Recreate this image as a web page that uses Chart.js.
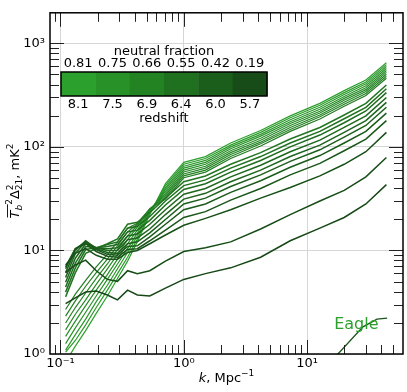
<!DOCTYPE html>
<html>
<head>
<meta charset="utf-8">
<script src="https://cdn.jsdelivr.net/npm/chart.js@4.4.1/dist/chart.umd.min.js"></script>
<style>
  html, body { margin: 0; padding: 0; background: #fff; }
  #wrap { width: 407px; height: 392px; }
</style>
</head>
<body>
<div id="wrap"><canvas id="chart" width="407" height="392"></canvas></div>
<script>
// wavenumbers k, Mpc^-1 (shared by every curve)
const kValues = [0.11, 0.132, 0.16, 0.195, 0.24, 0.29, 0.35, 0.42, 0.53, 0.71, 1.0, 1.5, 2.4, 4.2, 7.3, 12.7, 20, 30, 44];

// power spectra, mK^2 -- from lightest (high z) to darkest (low z)
const p01 = [0.84, 1.19, 1.68, 2.47, 3.63, 5.36, 7.89, 12.1, 22.2, 44.1, 70.9, 80.6, 109, 144, 199, 263, 349, 442, 649];
const p02 = [1.04, 1.35, 1.91, 2.81, 4.14, 5.97, 8.59, 12.9, 22.7, 42.3, 67.9, 77.2, 104, 138, 191, 252, 334, 423, 622];
const p03 = [1.09, 1.54, 2.17, 3.20, 4.61, 6.65, 9.56, 13.8, 23.2, 40.5, 65.1, 74.0, 100, 132, 183, 241, 320, 406, 596];
const p04 = [1.26, 1.79, 2.53, 3.63, 5.25, 7.40, 10.4, 14.7, 23.7, 38.8, 62.3, 70.8, 95.8, 127, 175, 231, 307, 389, 570];
const p05 = [1.48, 2.08, 2.93, 4.14, 5.84, 8.24, 11.6, 15.7, 24.2, 37.2, 59.7, 67.9, 91.8, 121, 168, 221, 294, 372, 546];
const p06 = [1.71, 2.42, 3.33, 4.71, 6.65, 9.17, 12.7, 16.8, 24.7, 35.6, 57.2, 65.0, 88.0, 116, 161, 212, 282, 357, 524];
const p07 = [1.99, 2.81, 3.88, 5.36, 7.40, 10.2, 13.8, 17.5, 25.2, 34.1, 54.8, 62.3, 84.3, 111, 154, 203, 270, 342, 502];
const p08 = [2.32, 3.26, 4.51, 6.10, 8.24, 11.1, 15.1, 17.9, 25.2, 32.7, 52.5, 59.6, 80.7, 107, 147, 195, 258, 327, 480];
const p09 = [2.69, 3.79, 5.14, 6.93, 9.17, 12.1, 16.4, 18.3, 25.2, 31.3, 50.3, 57.1, 77.3, 102, 141, 186, 247, 313, 460];
const p10 = [3.56, 6.10, 9.37, 10.4, 11.6, 12.9, 17.9, 18.7, 23.2, 32.0, 46.1, 52.4, 67.9, 87.9, 119, 154, 203, 263, 396];
const p11 = [3.96, 6.79, 10.2, 10.6, 11.4, 12.1, 16.4, 17.1, 21.3, 30.0, 42.3, 48.0, 62.3, 80.6, 109, 141, 187, 241, 364];
const p12 = [4.42, 7.56, 10.9, 10.6, 10.9, 11.4, 15.1, 15.7, 19.5, 27.5, 38.8, 44.1, 57.1, 73.9, 100, 130, 171, 222, 334];
const p13 = [4.92, 8.41, 11.6, 10.6, 10.4, 10.6, 13.8, 14.4, 17.9, 24.7, 34.9, 39.6, 51.3, 66.4, 89.8, 116, 154, 199, 300];
const p14 = [5.48, 9.37, 12.1, 10.6, 9.98, 9.98, 12.7, 13.2, 16.1, 22.2, 31.3, 35.6, 46.1, 59.6, 80.6, 104, 138, 179, 269];
const p15 = [6.10, 9.98, 12.4, 10.4, 9.56, 9.37, 11.6, 12.1, 14.8, 19.9, 28.1, 32.0, 41.4, 53.6, 72.4, 93.7, 124, 161, 241];
const p16 = [6.65, 10.4, 12.1, 10.2, 9.17, 8.98, 10.9, 11.1, 13.5, 17.9, 24.7, 28.1, 36.4, 47.1, 63.6, 82.4, 109, 141, 212];
const p17 = [6.93, 10.4, 11.6, 9.77, 8.78, 8.59, 10.2, 10.4, 12.4, 15.7, 20.8, 23.7, 30.6, 39.6, 53.6, 69.3, 91.7, 119, 179];
const p18 = [7.24, 9.37, 10.4, 8.98, 8.24, 8.24, 9.56, 9.98, 11.6, 14.1, 17.5, 20.4, 24.7, 32.0, 40.5, 52.4, 67.9, 89.8, 138];
const p19 = [6.10, 7.24, 8.06, 6.37, 5.25, 5.03, 6.37, 5.97, 6.37, 7.89, 9.77, 10.6, 12.1, 16.1, 22.2, 30.0, 38.0, 51.3, 78.9];
const p20 = [3.07, 3.48, 3.96, 4.05, 3.71, 3.33, 4.14, 3.71, 3.63, 4.32, 5.25, 5.97, 6.79, 8.59, 12.4, 16.4, 20.8, 28.1, 43.2];
const allSeries = [p01, p02, p03, p04, p05, p06, p07, p08, p09, p10, p11, p12, p13, p14, p15, p16, p17, p18, p19, p20];

// Eagle curve
const eagleK = [15.4, 17.8, 28.4, 36.9, 44.6];
const eagleP = [0.82, 1.0, 1.83, 2.17, 2.22];
const eagleLabel = 'Eagle';
const eagleLabelK = 16.6, eagleLabelP = 1.76;

// colour bar
const neutralFraction = ['0.81', '0.75', '0.66', '0.55', '0.42', '0.19'];
const redshifts = ['8.1', '7.5', '6.9', '6.4', '6.0', '5.7'];

// axes
const xTickValues = [0.1, 1, 10];
const xTickLabels = ['10\u207B\u00B9', '10\u2070', '10\u00B9'];
const yTickValues = [1, 10, 100, 1000];
const yTickLabels = ['10\u2070', '10\u00B9', '10\u00B2', '10\u00B3'];

const FONT = 'DejaVu Sans';
const light = [44, 160, 44], dark = [22, 72, 22];
const segColors = ['#2ca02c', '#289228', '#238323', '#1f711f', '#1b5e1b', '#174b17'];

function mix(t) {
  const c = light.map((v, i) => Math.round(v + (dark[i] - v) * t));
  return `rgb(${c[0]},${c[1]},${c[2]})`;
}

// darkest first so that it ends up on top
const datasets = [];
for (let i = allSeries.length - 1; i >= 0; i--) {
  const t = i / (allSeries.length - 1);
  datasets.push({
    data: kValues.map((k, j) => ({ x: k, y: allSeries[i][j] })),
    borderColor: mix(t),
    borderWidth: i < 9 ? 1.2 : 1.5,
    pointRadius: 0,
    tension: 0
  });
}
datasets.push({
  data: eagleK.map((k, j) => ({ x: k, y: eagleP[j] })),
  borderColor: mix(0.85),
  borderWidth: 1.3,
  pointRadius: 0,
  tension: 0
});

function minorValues(lo, hi) {
  const out = [];
  for (let e = -2; e <= 3; e++) {
    for (let m = 2; m <= 9; m++) {
      const v = m * Math.pow(10, e);
      if (v > lo && v < hi) out.push(v);
    }
  }
  return out;
}

function drawRich(ctx, parts, x, y) {
  let cx = x;
  parts.forEach(p => {
    ctx.font = `${p.italic ? 'italic ' : ''}${p.size}px ${FONT}`;
    ctx.fillText(p.t, cx, y + (p.dy || 0));
    if (!p.noAdvance) cx += ctx.measureText(p.t).width;
  });
  return cx - x;
}

function richWidth(ctx, parts) {
  let w = 0;
  parts.forEach(p => {
    ctx.font = `${p.italic ? 'italic ' : ''}${p.size}px ${FONT}`;
    if (!p.noAdvance) w += ctx.measureText(p.t).width;
  });
  return w;
}

const overlay = {
  id: 'overlay',
  afterDraw(chart) {
    const ctx = chart.ctx;
    const { left, right, top, bottom } = chart.chartArea;
    const xs = chart.scales.x, ys = chart.scales.y;
    ctx.save();

    // inward ticks on all four sides
    ctx.strokeStyle = '#222';
    ctx.lineWidth = 1;
    const seg = (x1, y1, x2, y2) => { ctx.beginPath(); ctx.moveTo(x1, y1); ctx.lineTo(x2, y2); ctx.stroke(); };
    const xTick = (v, len) => {
      const px = Math.round(xs.getPixelForValue(v)) + 0.5;
      if (px < left || px > right) return;
      seg(px, bottom, px, bottom - len);
      seg(px, top, px, top + len);
    };
    const yTick = (v, len) => {
      const py = Math.round(ys.getPixelForValue(v)) + 0.5;
      if (py < top || py > bottom) return;
      seg(left, py, left + len, py);
      seg(right, py, right - len, py);
    };
    xTickValues.forEach(v => xTick(v, 14));
    minorValues(xs.min, xs.max).forEach(v => xTick(v, 9));
    yTickValues.forEach(v => yTick(v, 14));
    minorValues(ys.min, ys.max).forEach(v => yTick(v, 9));

    // frame
    ctx.strokeStyle = '#000';
    ctx.lineWidth = 1.5;
    ctx.strokeRect(left, top, right - left, bottom - top);

    // colour bar
    const cbX = 61, cbY = 72, cbW = 206, cbH = 24;
    const sw = cbW / segColors.length;
    segColors.forEach((c, i) => {
      ctx.fillStyle = c;
      ctx.fillRect(cbX + i * sw, cbY, sw + 0.5, cbH);
    });
    ctx.strokeStyle = '#000';
    ctx.lineWidth = 1.5;
    ctx.strokeRect(cbX, cbY, cbW, cbH);
    ctx.fillStyle = '#000';
    ctx.font = `13px ${FONT}`;
    ctx.textAlign = 'center';
    ctx.textBaseline = 'alphabetic';
    neutralFraction.forEach((s, i) => ctx.fillText(s, cbX + sw * (i + 0.5), 67));
    redshifts.forEach((s, i) => ctx.fillText(s, cbX + sw * (i + 0.5), 108));
    ctx.fillText('neutral fraction', cbX + cbW / 2, 55);
    ctx.fillText('redshift', cbX + cbW / 2, 122);

    // Eagle label
    ctx.textAlign = 'left';
    ctx.fillStyle = '#2ca02c';
    ctx.font = `16px ${FONT}`;
    ctx.fillText(eagleLabel, xs.getPixelForValue(eagleLabelK), ys.getPixelForValue(eagleLabelP));

    // x title
    ctx.fillStyle = '#000';
    const xParts = [
      { t: 'k', size: 13, italic: true },
      { t: ', Mpc', size: 13 },
      { t: '\u22121', size: 9, dy: -6 }
    ];
    const xw = richWidth(ctx, xParts);
    drawRich(ctx, xParts, (left + right) / 2 - xw / 2, 382);

    // y title (rotated)
    ctx.save();
    ctx.translate(19, 181);
    ctx.rotate(-Math.PI / 2);
    const yParts = [
      { t: 'T', size: 13, italic: true },
      { t: 'b', size: 9, italic: true, dy: 3 },
      { t: '2', size: 9, dy: -7 },
      { t: '\u0394', size: 13 },
      { t: '2', size: 9, dy: -6, noAdvance: true },
      { t: '21', size: 9, dy: 3 },
      { t: ', mK', size: 13 },
      { t: '2', size: 9, dy: -6 }
    ];
    const yw = richWidth(ctx, yParts);
    const x0 = -yw / 2;
    drawRich(ctx, yParts, x0, 0);
    // overline over T_b
    ctx.font = `italic 13px ${FONT}`;
    const tw = ctx.measureText('T').width;
    ctx.font = `italic 9px ${FONT}`;
    const bw = ctx.measureText('b').width;
    ctx.strokeStyle = '#000';
    ctx.lineWidth = 0.9;
    seg(x0 + 1, -11.5, x0 + tw + bw + 0.5, -11.5);
    ctx.restore();

    ctx.restore();
  }
};

new Chart(document.getElementById('chart').getContext('2d'), {
  type: 'line',
  data: { datasets: datasets },
  options: {
    responsive: false,
    animation: false,
    layout: { padding: { left: 0, top: 4, right: 4, bottom: 0 } },
    plugins: { legend: { display: false }, tooltip: { enabled: false } },
    scales: {
      x: {
        type: 'logarithmic',
        min: 0.0822,
        max: 60,
        afterBuildTicks: s => { s.ticks = xTickValues.map(v => ({ value: v })); },
        afterFit: s => { s.height = 38; },
        ticks: {
          autoSkip: false,
          maxRotation: 0,
          padding: 2,
          color: '#000',
          font: { family: FONT, size: 13 },
          callback: (v, i) => xTickLabels[i]
        },
        grid: { color: '#d6d6d6', lineWidth: 1, drawTicks: false },
        border: { display: false }
      },
      y: {
        type: 'logarithmic',
        min: 1,
        max: 1970,
        afterBuildTicks: s => { s.ticks = yTickValues.map(v => ({ value: v })); },
        afterFit: s => { s.width = 50; },
        ticks: {
          autoSkip: false,
          padding: 5,
          color: '#000',
          font: { family: FONT, size: 13 },
          callback: (v, i) => yTickLabels[i]
        },
        grid: { color: '#d6d6d6', lineWidth: 1, drawTicks: false },
        border: { display: false }
      }
    }
  },
  plugins: [overlay]
});
</script>
</body>
</html>
